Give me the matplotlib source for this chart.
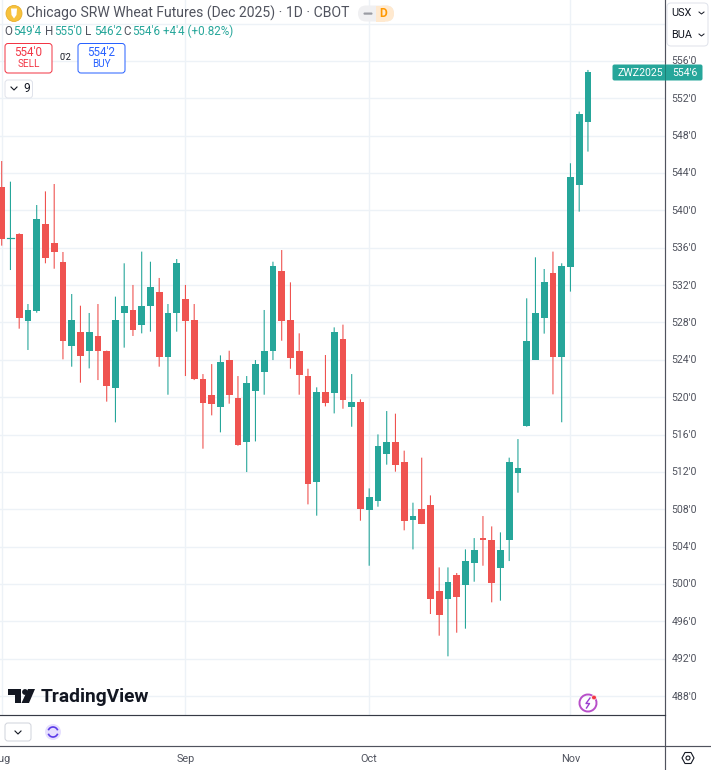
import matplotlib
matplotlib.use("Agg")
import matplotlib.pyplot as plt
from matplotlib.patches import FancyBboxPatch, Rectangle, Circle, Polygon, Arc
from matplotlib.lines import Line2D

plt.rcParams['font.family'] = ['Roboto', 'DejaVu Sans']

# ---- data (daily candles, price in cents) ----
opens = [542.50,537.00,537.47,528.19,529.22,538.54,536.54,534.50,525.51,526.97,524.90,526.51,524.98,520.98,
         528.97,529.29,527.72,529.76,531.22,524.26,528.97,530.54,528.22,521.97,520.22,518.94,523.97,519.94,
         515.19,520.69,522.69,524.90,533.54,528.22,524.97,522.26,510.95,520.51,520.47,526.18,518.98,519.44,
         507.95,508.91,513.94,515.23,513.02,506.88,508.02,508.48,499.20,498.42,500.99,499.88,502.20,504.91,
         504.70,501.70,504.70,511.91,516.91,523.98,528.51,533.26,524.27,533.97,542.75,549.50]
highs = [545.28,543.07,537.54,529.97,540.57,542.03,542.82,535.54,531.04,529.79,529.01,529.97,524.98,530.76,
         534.33,532.01,535.58,534.50,532.76,529.97,534.79,532.01,529.97,522.47,523.54,524.47,524.97,522.26,
         522.26,523.97,529.33,534.50,535.75,532.29,526.83,523.04,521.05,524.51,527.47,527.76,522.47,519.76,
         510.23,516.01,518.51,518.23,514.27,508.70,513.52,509.48,501.77,501.77,501.17,503.70,504.91,507.27,
         506.16,505.52,513.52,515.51,530.58,534.97,533.72,535.58,534.33,545.04,550.57,555.03]
lows = [536.22,533.61,527.33,525.05,529.04,534.33,533.75,524.05,523.26,521.55,523.08,521.83,519.52,517.30,
        525.30,526.55,526.83,527.01,523.26,520.26,527.01,522.26,521.83,514.48,518.05,516.23,519.30,514.80,
        511.98,515.26,520.26,523.97,526.04,523.04,520.26,508.52,507.31,519.01,518.26,518.76,516.83,506.77,
        501.95,508.27,512.77,512.02,505.74,503.70,506.41,496.78,494.46,492.25,494.78,495.21,500.24,501.95,
        498.03,498.21,502.45,509.77,516.84,523.98,526.80,520.30,517.31,531.30,539.86,546.29]
closes = [536.97,537.00,528.47,529.29,539.04,534.93,535.50,525.97,528.22,524.44,526.97,524.90,521.16,528.22,
          529.76,527.22,529.76,531.79,524.26,528.97,534.33,528.19,521.90,519.40,519.23,523.72,520.19,514.91,
          521.47,523.51,524.97,534.04,528.18,524.22,522.40,510.66,520.51,519.40,526.97,519.73,519.44,507.98,
          509.27,514.76,515.23,512.69,506.70,507.27,506.41,498.42,496.71,500.20,498.63,502.42,503.67,504.70,
          500.13,503.67,513.02,512.45,526.01,528.98,532.30,524.27,534.01,543.57,550.28,554.81]
price_ticks = [488,492,496,500,504,508,512,516,520,524,528,532,536,540,544,548,552,556]
hidden_grid_ticks = [560]
month_labels = ["Aug","Sep","Oct","Nov"]
month_index = [0,21,42,65]
title_text = "Chicago SRW Wheat Futures (Dec 2025) · 1D · CBOT"
ohlc_parts = [("O","549'4"),("H","555'0"),("L","546'2"),("C","554'6")]
change_text = "+4'4 (+0.82%)"

UP = "#26A69A"; DOWN = "#EF5350"; GRID = "#EDF2F7"; TXT = "#50535E"; FRAME = "#50535E"
W, H = 711, 770
fig = plt.figure(figsize=(W/100, H/100), dpi=100, facecolor="white")

# ---- chart pane ----
PANE_R, PANE_B = 664.5, 715.0
ax = fig.add_axes([0, 1-PANE_B/H, PANE_R/W, PANE_B/H])
PX_BAR = 8.75; X0 = 1.7
ax.set_xlim(-X0/PX_BAR, (PANE_R-X0)/PX_BAR)
PX_UNIT = 9.34; Y556 = 60.9
ax.set_ylim(556-(PANE_B-Y556)/PX_UNIT, 556+Y556/PX_UNIT)
ax.axis("off")
for t in price_ticks+hidden_grid_ticks:
    ax.axhline(t, color=GRID, lw=1.0, zorder=1)
for i in month_index:
    ax.axvline(i, color=GRID, lw=1.0, zorder=1)
lw_px = 72/100
for i,(o,h,l,c) in enumerate(zip(opens,highs,lows,closes)):
    col = UP if c>=o else DOWN
    ax.plot([i,i],[l,h],color=col,lw=1.1*lw_px,solid_capstyle="butt",zorder=2,snap=False)
    top,bot = max(o,c),min(o,c)
    if top-bot<0.1:
        ax.plot([i-0.36,i+0.36],[top,top],color=col,lw=1.2*lw_px,zorder=3)
    else:
        ax.add_patch(Rectangle((i-0.38,bot),0.76,top-bot,facecolor=col,edgecolor="none",zorder=3))

# ---- overlay in pixel coords ----
ov = fig.add_axes([0,0,1,1],facecolor="none")
ov.set_xlim(0,W); ov.set_ylim(H,0); ov.axis("off"); ov.set_zorder(5)
def rbox(x0,y0,x1,y1,ec,fc="white",r=3,lw=1.0,z=6):
    ov.add_patch(FancyBboxPatch((x0+r,y0+r),x1-x0-2*r,y1-y0-2*r,boxstyle=f"round,pad={r},rounding_size={r}",
                                ec=ec,fc=fc,lw=lw*0.72,zorder=z))
def txt(x,y,s,c=TXT,size=8,ha="left",weight="normal",z=8):
    return ov.text(x,y,s,color=c,fontsize=size,ha=ha,va="center",fontweight=weight,zorder=z)

# frame lines
ov.add_line(Line2D([PANE_R,PANE_R],[0,H],color=FRAME,lw=0.85,zorder=7))
ov.add_line(Line2D([0,PANE_R],[715.3,715.3],color="#363A45",lw=0.85,zorder=7))
ov.add_line(Line2D([0,W],[746.3,746.3],color=FRAME,lw=0.85,zorder=7))

# y labels
for t in price_ticks:
    y = Y556+(556-t)*PX_UNIT
    txt(671.5,y+0.5,f"{t}'0",size=7.6)
for lab,i in zip(month_labels,month_index):
    txt(X0+i*PX_BAR,758.5,lab,size=7.8,ha="center")

# header
ov.add_patch(Circle((14,13.5),8,fc="#F7C23C",ec="#E8AE2A",lw=0.6,zorder=7))
ov.add_patch(Polygon([(11,8.5),(17,8.5),(16.5,15),(14,18.5),(11.5,15)],fc="white",ec="none",zorder=8))
txt(25.5,13.5,title_text,size=10.1)
for k,(a,b) in zip([4,45,85,123],ohlc_parts):
    txt(k,31.5,a,size=8.4)
    txt(k+9,31.5,b,c=UP,size=8.4)
txt(163,31.5,change_text,c=UP,size=8.4)

# session/delay pill
ov.add_patch(FancyBboxPatch((358,5.5),36,16,boxstyle="round,pad=0,rounding_size=8",fc="#F0F0F2",ec="none",zorder=6))
ov.add_patch(FancyBboxPatch((376,5.5),18,16,boxstyle="round,pad=0,rounding_size=8",fc="#FFE9CF",ec="none",zorder=6.1))
ov.add_patch(Rectangle((376,5.5),9,16,fc="#FFE9CF",ec="none",zorder=6.2))
ov.add_patch(FancyBboxPatch((363.5,12.5),9,2.2,boxstyle="round,pad=0,rounding_size=1",fc="#9A9CA3",ec="none",zorder=7))
txt(383.5,13.5,"D",c="#FF9800",size=8.6,ha="center",weight="bold")

# trade boxes
rbox(5,43.5,52,73,"#F23645")
txt(28.5,52,"554'0",c="#F23645",size=8.4,ha="center")
txt(28.5,64,"SELL",c="#F23645",size=7.2,ha="center")
txt(65,58,"0'2",c="#131722",size=6.6,ha="center")
rbox(78,43.5,125,73,"#2962FF")
txt(101.5,52,"554'2",c="#2962FF",size=8.4,ha="center")
txt(101.5,64,"BUY",c="#2962FF",size=7.2,ha="center")
rbox(5,80,32.5,98,"#E0E3EB")
ov.add_line(Line2D([11,14,17],[87,90,87],color="#131722",lw=0.8,zorder=8))
txt(23,88.5,"9",c="#131722",size=8.6)

# currency/unit box
rbox(667,3,708,46,"#E0E3EB",r=4)
txt(671.5,13.5,"USX",c="#131722",size=7.8)
txt(671.5,35,"BUA",c="#131722",size=7.8)
for yy in (13,35):
    ov.add_line(Line2D([699,701.5,704],[yy-1,yy+1,yy-1],color="#131722",lw=0.7,zorder=8))

# last price tag
rbox(613,65,702,80,UP,fc=UP,r=1.5,z=7)
ov.add_line(Line2D([PANE_R,PANE_R],[65,80],color="#1E7F76",lw=0.7,zorder=7.5))
txt(617,73,"ZWZ2025",c="white",size=7.6)
txt(672,73,"554'6",c="white",size=7.6)

# TradingView logo
ov.add_patch(Polygon([(8,689),(21,689),(21,703),(15,703),(15,695),(8,695)],fc="#131722",ec="none",zorder=8))
ov.add_patch(Circle((25,692),2.9,fc="#131722",ec="none",zorder=8))
ov.add_patch(Polygon([(28,689),(35,689),(29,703),(21.5,703)],fc="#131722",ec="none",zorder=8))
txt(41,696.5,"TradingView",c="#131722",size=13.8,weight="bold")

# bottom-left controls
rbox(5,723,31,741,"#D1D4DC")
ov.add_line(Line2D([15,18,21],[731,734,731],color="#131722",lw=0.8,zorder=8))
ov.add_patch(Circle((53,732),8,fc="#E6DFFE",ec="none",zorder=7))
ov.add_patch(Arc((53,732),10,10,theta1=200,theta2=340,ec="#5B3BE8",lw=1.2,zorder=8))
ov.add_patch(Arc((53,732),10,10,theta1=20,theta2=160,ec="#5B3BE8",lw=1.2,zorder=8))

# lightning badge
ov.add_patch(Arc((588,703),17,17,theta1=0,theta2=360,ec="#B84FC9",lw=1.4,zorder=8))
ov.add_line(Line2D([590,586,589.5,586.5],[698,703.5,703.5,708],color="#9C3FD0",lw=1.0,zorder=8))
ov.add_patch(Circle((594,697.5),2.3,fc="#F23645",ec="white",lw=0.4,zorder=9))

# settings hexagon
ov.add_patch(Polygon([(682,758),(685,752.5),(691,752.5),(694,758),(691,763.5),(685,763.5)],closed=True,fc="none",ec="#131722",lw=0.8,zorder=8))
ov.add_patch(Circle((688,758),2,fc="none",ec="#131722",lw=0.8,zorder=8))

fig.savefig("out.png",dpi=100,facecolor="white")
